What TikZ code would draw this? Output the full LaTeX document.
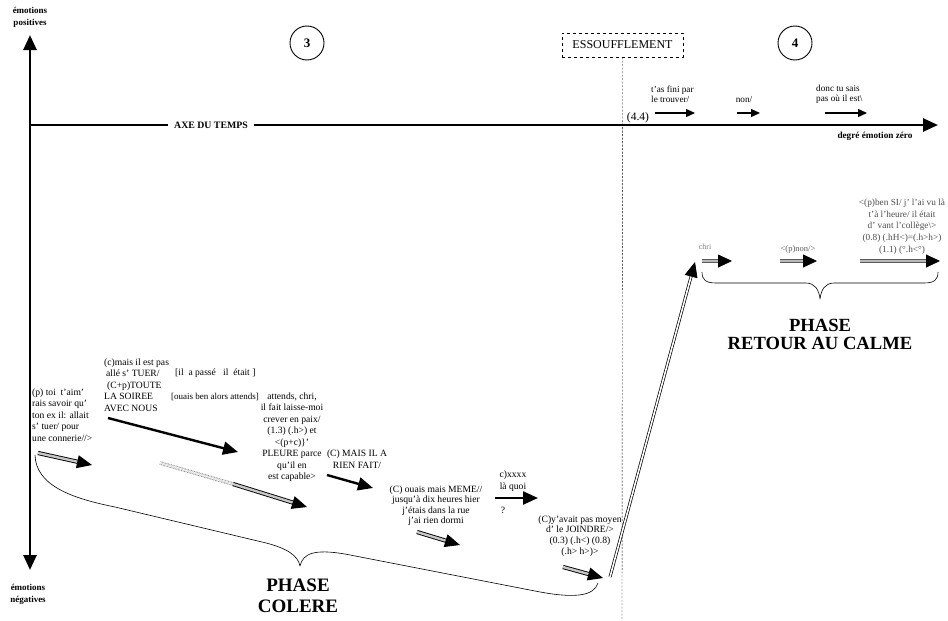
\documentclass[tikz,border=0pt]{standalone}
\usepackage{fontspec}
\setmainfont{Liberation Serif}
\usetikzlibrary{arrows.meta}

\begin{document}
\begin{tikzpicture}[x=1pt,y=-1pt,line join=round,font=\fontsize{9.6}{11.5}\selectfont,
	txt/.style={inner sep=0pt,align=center},
	petit/.style={inner sep=0pt,align=left,font=\fontsize{9.2}{9.8}\selectfont},
	gras/.style={inner sep=0pt,align=center,font=\bfseries\fontsize{9}{12}\selectfont},
	phase/.style={inner sep=0pt,align=center,font=\bfseries\fontsize{19}{19}\selectfont},
	axe/.style={line width=2.6pt,-{Triangle[length=15pt,width=13pt]}},
	fleche/.style={line width=2.4pt,-{Triangle[length=15pt,width=13pt]}},
	mini/.style={line width=1.3pt,-{Triangle[length=9pt,width=8pt]}},
	dbl/.style={line width=0.9pt,double=gray!45,double distance=2.4pt,-{Triangle[length=15pt,width=13pt]}},
	gdbl/.style={draw=gray!70!black,line width=0.8pt,double=gray!55,double distance=2.4pt,-{Triangle[length=14pt,width=13pt,color=black]}},
	rond/.style={circle,draw,line width=0.9pt,minimum size=34pt,inner sep=0pt,font=\bfseries\fontsize{13}{13}\selectfont}]
	\useasboundingbox (0,0) rectangle (948,621);
	% axes
	\coordinate (O) at (30,125);
	\draw[axe,{Triangle[length=15pt,width=13pt]}-{Triangle[length=15pt,width=13pt]}] (30,570) -- (30,35);
	\draw[axe] (O) -- (938,125);
	\node[gras,fill=white,inner xsep=6pt,font=\bfseries\fontsize{9.8}{10}\selectfont] (temps) at (211,125) {AXE DU TEMPS};
	\node[gras] (pos) at (30,17) {émotions\\positives};
	\node[gras] (neg) at (28,594) {émotions\\négatives};
	\node[gras,font=\bfseries\fontsize{9.2}{10}\selectfont] (zero) at (875,136) {degré émotion zéro};
	\node[rond] (p3) at (307,43) {3};
	\node[rond] (p4) at (795,43) {4};
	\node[draw,dashed,inner sep=0pt,minimum width=121pt,minimum height=24pt,font=\fontsize{12}{12}\selectfont] (ess) at (622.5,45) {ESSOUFFLEMENT};
	\draw[dash pattern=on 2pt off 1.5pt] (ess.south) -- (622,621);
	\node[inner sep=0pt,font=\fontsize{11.5}{12}\selectfont] (q44) at (638,118) {(4.4)};
	% au-dessus de l'axe
	\node[petit,anchor=west] (fini) at (651,94.5) {t'as fini par\\le trouver/};
	\draw[mini] (655,113) -- (695,113);
	\node[petit] (non) at (744,100) {non/};
	\draw[mini] (737,113) -- (760,113);
	\node[petit,anchor=west] (donc) at (816,94.5) {donc tu sais\\pas où il est\textbackslash};
	\draw[mini] (825,113) -- (867,113);
	% phase colere
	\node[txt,align=left,anchor=west] (toi) at (32,415) {(p) toi\ \ t'aim'\\rais savoir qu'\\ton ex il: allait\\s' tuer/ pour\\une connerie//>};
	\node[txt,align=left,anchor=west] (mais) at (104,385) {(c)mais il est pas\\\hspace*{2pt}allé s' TUER/\\\hspace*{3pt}(C+p)TOUTE\\LA SOIREE\\AVEC NOUS};
	\node[txt,anchor=west] (passe) at (175,373) {[il\ \ a passé\ \ \ il\ \ était ]};
	\node[txt,anchor=west,font=\fontsize{9}{11}\selectfont] (ouais) at (171,397) {[ouais ben alors attends]};
	\node[txt] (chri) at (292,437) {attends, chri,\\il fait laisse-moi\\crever en paix/\\(1.3) (.h>) et\\<(p+c)\}'\\PLEURE parce\\qu'il en\\est capable>};
	\node[txt] (rien) at (357,459) {(C) MAIS IL A\\RIEN FAIT/};
	\node[txt,font=\fontsize{9.6}{10.5}\selectfont] (meme) at (436,505.5) {(C) ouais mais MEME//\\jusqu'à dix heures hier\\j'étais dans la rue\\j'ai rien dormi};
	\node[txt] (xxxx) at (513,481) {c)xxxx\\là quoi};
	\node[txt] (quest) at (503,510) {?};
	\node[txt,font=\fontsize{9.6}{10.7}\selectfont] (moyen) at (580,536) {(C)y'avait pas moyen\\d' le JOINDRE/>\\(0.3) (.h<) (0.8)\\(.h> h>)>};
	\draw[dbl] (38,453) -- (92,465);
	\draw[fleche] (108,418) -- (238,452);
	\draw[gray,line width=0.8pt,double=white,double distance=2pt,dash pattern=on 0.8pt off 0.8pt] (160,463) -- (233,484);
	\draw[dbl] (233,484) -- (307,507);
	\draw[fleche] (327,475) -- (373,488);
	\draw[dbl] (417,532) -- (460,545);
	\draw[fleche] (495,498) -- (538,498);
	\draw[dbl] (563,567) -- (603,578);
	\draw[line width=0.7pt,double,double distance=1.6pt,-{Triangle[length=15pt,width=13pt]}] (610,577) -- (695,262);
	\draw[line width=0.6pt] (35,455) .. controls (36,485) and (70,498) .. (115,507) -- (262,542) .. controls (288,548) and (298,556) .. (300,566) .. controls (303,553) and (315,549) .. (345,554) -- (535,591) .. controls (575,599) and (594,596) .. (598,583);
	\node[phase,font=\bfseries\fontsize{19}{21}\selectfont] (colere) at (298,595.5) {PHASE\\COLERE};
	% retour au calme
	\node[txt,font=\fontsize{8}{8}\selectfont,text=gray] (chri2) at (705,247) {chri};
	\draw[gdbl] (702,261) -- (732,261);
	\node[txt,font=\fontsize{8.5}{9}\selectfont,text=gray!70!black] (non2) at (798,249) {<(p)non/>};
	\draw[gdbl] (780,261) -- (817,261);
	\node[txt,font=\fontsize{9.3}{11.7}\selectfont,text=gray!60!black] (benSI) at (902,226.5) {<(p)ben SI/ j' l'ai vu là\\t'à l'heure/ il était\\d' vant l'collège\textbackslash>\\(0.8) (.hH<)=(.h>h>)\\(1.1) (°.h<°)};
	\draw[gdbl] (860,261) -- (940,261);
	\draw[line width=0.6pt] (702,272) .. controls (702,280) and (706,283) .. (716,283) -- (806,283) .. controls (815,283) and (819,290) .. (820,299) .. controls (821,290) and (825,283) .. (834,283) -- (924,283) .. controls (934,283) and (938,280) .. (938,272);
	\node[phase,font=\bfseries\fontsize{18.6}{18}\selectfont] (calme) at (820,334) {PHASE\\RETOUR AU CALME};
\end{tikzpicture}
\end{document}
